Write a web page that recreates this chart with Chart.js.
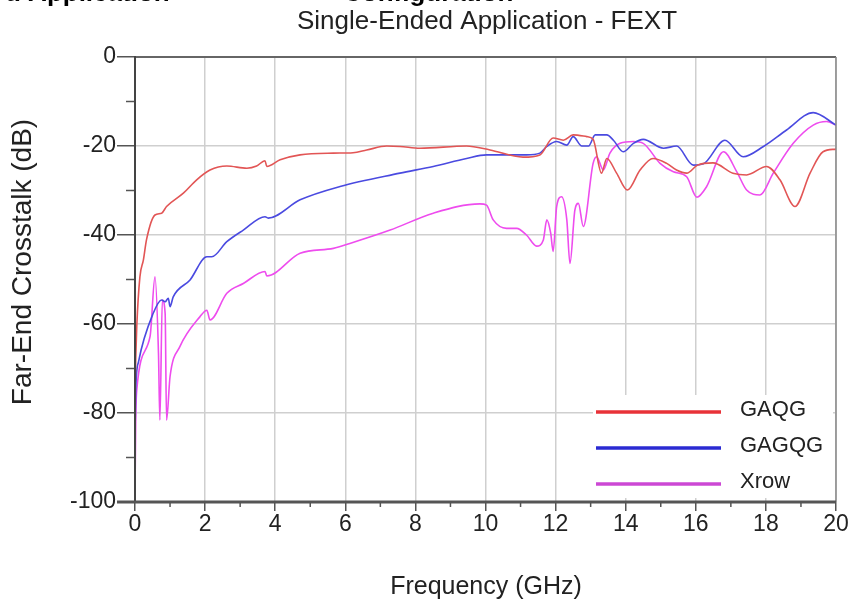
<!DOCTYPE html>
<html><head><meta charset="utf-8">
<script src="https://cdn.jsdelivr.net/npm/chart.js@4.4.0/dist/chart.umd.min.js"></script>
<style>html,body{margin:0;padding:0;background:#fff}#wrap{width:855px;height:602px}</style>
</head><body><div id="wrap"><canvas id="c" width="855" height="602"></canvas></div>
<script>
const seriesNames = ["GAQG", "GAGQG", "Xrow"];
const xTicks = [0,2,4,6,8,10,12,14,16,18,20];
const yTicks = [-100,-80,-60,-40,-20,0];
const gaqg = [[0,-75],[0.02,-68],[0.05,-60.6],[0.14,-49.4],[0.24,-45.6],[0.33,-41],[0.57,-35.5],[0.76,-35.1],[0.9,-33.6],[1.38,-30.6],[1.76,-27.6],[2.14,-25.4],[2.62,-24.5],[3.19,-25],[3.47,-24.5],[3.71,-23.3],[3.76,-24.6],[4.14,-23.1],[4.71,-22],[5.66,-21.6],[6.22,-21.5],[6.61,-20.9],[7.18,-20],[7.56,-20.1],[8.13,-20.5],[9.46,-20],[10.13,-20.9],[11.07,-22.5],[11.55,-22],[11.93,-18.2],[12.22,-18.7],[12.5,-17.5],[12.89,-17.9],[13.07,-18.5],[13.31,-26.1],[13.46,-22.8],[13.74,-26.1],[14.05,-29.9],[14.41,-25.4],[14.78,-22.8],[15.17,-23.9],[15.45,-25.4],[15.74,-26.1],[16.05,-24.3],[16.49,-23.8],[17.06,-26.1],[17.45,-26.5],[18.02,-24.6],[18.4,-27.6],[18.83,-33.6],[19.26,-26.1],[19.63,-21.3],[20,-20.7]];
const gagqg = [[0,-86],[0.02,-75],[0.1,-68.5],[0.52,-57.6],[0.76,-54.6],[0.86,-55],[0.95,-54.2],[1.0,-56.1],[1.09,-53.9],[1.57,-50.1],[2.05,-44.9],[2.19,-44.9],[2.62,-41.5],[3.09,-38.9],[3.71,-35.9],[3.8,-36.2],[4.71,-32.1],[5.85,-29.1],[7.56,-26.1],[8.51,-24.6],[9.46,-22.8],[10.03,-22],[11.17,-22],[11.55,-21.6],[11.75,-20.1],[12.03,-19],[12.32,-19.8],[12.5,-17.9],[12.75,-20],[12.94,-20],[13.13,-17.5],[13.46,-17.5],[13.65,-18.7],[13.93,-21.3],[14.22,-19.4],[14.5,-18.5],[15.08,-20.5],[15.45,-20],[15.93,-24.3],[16.22,-24],[16.83,-18.7],[17.35,-22.4],[17.93,-20.1],[18.59,-16.4],[19.35,-12.5],[20,-15.3]];
const xrow = [[0,-98.8],[0.02,-82],[0.05,-74.8],[0.43,-62.8],[0.57,-49.4],[0.67,-66.6],[0.71,-81.6],[0.78,-54.6],[0.86,-57.6],[0.9,-81.6],[1.0,-71.8],[1.28,-65.1],[1.85,-58.4],[2.05,-56.9],[2.14,-59.1],[2.62,-53.1],[3.09,-50.9],[3.71,-48.2],[3.76,-49.2],[4.71,-44.1],[5.66,-43],[6.13,-41.9],[7.28,-38.9],[8.51,-35.1],[9.84,-33],[10.03,-33.3],[10.22,-36.6],[10.6,-38.5],[10.89,-38.5],[11.17,-40],[11.46,-42.5],[11.65,-41.1],[11.75,-36.6],[11.86,-39.6],[11.93,-43.7],[12.03,-33.6],[12.17,-31.4],[12.32,-36.6],[12.41,-46.4],[12.55,-34.4],[12.65,-32.9],[12.79,-38.1],[13.07,-23.9],[13.17,-22.4],[13.36,-25.4],[13.55,-21.6],[13.84,-19.4],[14.22,-19],[14.5,-19.4],[14.98,-23.9],[15.36,-25.8],[15.74,-26.9],[16.03,-31.5],[16.31,-29.1],[16.79,-21.3],[17.17,-25.8],[17.45,-29.9],[17.83,-31],[18.21,-26.1],[18.78,-19.4],[19.35,-15.3],[19.73,-14.5],[20,-15.3]];

const FONT = '"Liberation Sans",Arial,sans-serif';
const toPts = a => a.map(p => ({x:p[0], y:p[1]}));
const lineColors = ['#e25555','#4a4ae0','#ee4cee'];
const legendColors = ['#e83238','#2a2ad2','#cc48d4'];

const deco = {
  id:'deco',
  beforeDatasetsDraw(chart){
    const {ctx, chartArea:a, scales:{x,y}} = chart;
    ctx.save();
    ctx.strokeStyle='#555'; ctx.lineWidth=1.5;
    for(let v=1; v<20; v+=2){const px=x.getPixelForValue(v); ctx.beginPath(); ctx.moveTo(px,a.bottom); ctx.lineTo(px,a.bottom+5); ctx.stroke();}
    for(let v=-90; v<0; v+=20){const py=y.getPixelForValue(v); ctx.beginPath(); ctx.moveTo(a.left-9,py); ctx.lineTo(a.left,py); ctx.stroke();}
    ctx.restore();
  },
  afterDatasetsDraw(chart){
    const {ctx, chartArea:a} = chart;
    ctx.save();
    ctx.strokeStyle='#666'; ctx.lineWidth=2;
    ctx.beginPath(); ctx.moveTo(a.left,a.top); ctx.lineTo(a.right,a.top); ctx.stroke();
    ctx.strokeStyle='#888'; ctx.lineWidth=1.5;
    ctx.beginPath(); ctx.moveTo(a.right,a.top); ctx.lineTo(a.right,a.bottom); ctx.stroke();
    ctx.strokeStyle='#444'; ctx.lineWidth=2;
    ctx.beginPath(); ctx.moveTo(a.left,a.top-1); ctx.lineTo(a.left,a.bottom); ctx.stroke();
    ctx.strokeStyle='#555'; ctx.lineWidth=3;
    ctx.beginPath(); ctx.moveTo(a.left-18,a.bottom); ctx.lineTo(a.right,a.bottom); ctx.stroke();
    // legend
    ctx.fillStyle='#fff'; ctx.fillRect(593,395,240,103);
    ctx.font='22px '+FONT; ctx.textBaseline='middle'; ctx.textAlign='left';
    chart.data.datasets.forEach((d,i)=>{
      const yy=412+i*36;
      ctx.strokeStyle=legendColors[i]; ctx.lineWidth=3.5;
      ctx.beginPath(); ctx.moveTo(596,yy); ctx.lineTo(721,yy); ctx.stroke();
      ctx.fillStyle='#222'; ctx.fillText(d.label,740,yy-2);
    });
    // titles
    ctx.fillStyle='#222'; ctx.textAlign='center'; ctx.textBaseline='alphabetic';
    ctx.font='26px '+FONT; ctx.fillText('Single-Ended Application - FEXT',487,29);
    ctx.font='25px '+FONT; ctx.fillText('Frequency (GHz)',486,594);
    ctx.save(); ctx.translate(31,262); ctx.rotate(-Math.PI/2); ctx.font='28px '+FONT; ctx.fillText('Far-End Crosstalk (dB)',0,0); ctx.restore();
    // cropped heading above
    ctx.fillStyle='#000'; ctx.font='bold 26px '+FONT; ctx.textAlign='left';
    ctx.fillText('d Application',5,1);
    ctx.fillText('Configuration',343,1);
    ctx.restore();
  }
};

new Chart(document.getElementById('c'), {
  type:'line',
  data:{datasets:[
    {label:seriesNames[0], data:toPts(gaqg), borderColor:lineColors[0]},
    {label:seriesNames[1], data:toPts(gagqg), borderColor:lineColors[1]},
    {label:seriesNames[2], data:toPts(xrow), borderColor:lineColors[2]}
  ].map(d=>Object.assign(d,{borderWidth:1.6,pointRadius:0,fill:false,cubicInterpolationMode:'monotone'}))},
  options:{
    responsive:false, animation:false, events:[],
    layout:{padding:{top:57,left:0,right:19,bottom:0}},
    plugins:{legend:{display:false}, title:{display:false}, tooltip:{enabled:false}},
    scales:{
      x:{type:'linear', min:0, max:20,
        afterFit:s=>{s.height=100;},
        afterBuildTicks:s=>{s.ticks=xTicks.map(v=>({value:v}));},
        grid:{color:'#cfcfcf', lineWidth:1.5, tickLength:9, tickColor:'#555', tickWidth:1.5},
        border:{display:false},
        ticks:{font:{family:FONT,size:23}, color:'#222', padding:0, maxRotation:0}
      },
      y:{type:'linear', min:-100, max:0,
        afterFit:s=>{s.width=135;},
        afterBuildTicks:s=>{s.ticks=yTicks.map(v=>({value:v}));},
        grid:{color:'#cfcfcf', lineWidth:1.5, tickLength:18, tickColor:'#555', tickWidth:1.5},
        border:{display:false},
        ticks:{font:{family:FONT,size:23}, color:'#222', padding:1}
      }
    }
  },
  plugins:[deco]
});
</script></body></html>
